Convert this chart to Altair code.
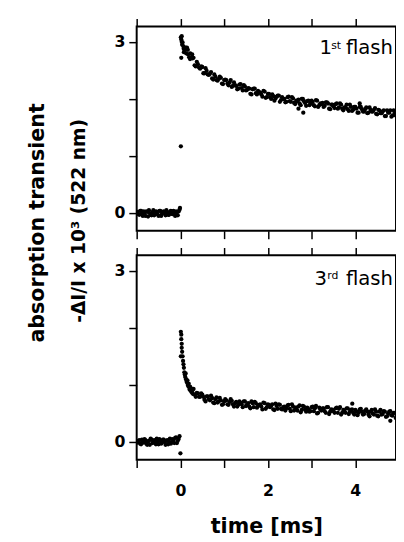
import altair as alt
import pandas as pd

# ---------------- 1st flash ----------------
t1_pre = [-0.98, -0.94, -0.90, -0.86, -0.82, -0.78, -0.74, -0.70, -0.66, -0.62,
          -0.58, -0.54, -0.50, -0.46, -0.42, -0.38, -0.34, -0.30, -0.26, -0.22,
          -0.18, -0.14, -0.10, -0.06, -0.02]
a1_pre = [0.02, -0.03, 0.04, -0.05, 0.01, 0.03, -0.06, 0.00, -0.04, 0.05,
          -0.02, 0.02, -0.05, 0.04, -0.01, 0.03, -0.04, 0.01, -0.03, 0.04,
          -0.02, 0.00, 0.03, -0.04, 0.06]
t1_pre2 = [-0.96, -0.92, -0.88, -0.84, -0.80, -0.76, -0.72, -0.68, -0.64, -0.60,
           -0.56, -0.52, -0.48, -0.44, -0.40, -0.36, -0.32, -0.28, -0.24, -0.20,
           -0.16, -0.12, -0.08, -0.04]
a1_pre2 = [-0.02, 0.04, -0.01, 0.03, -0.05, 0.02, 0.05, -0.03, 0.01, -0.04,
           0.03, -0.02, 0.04, -0.05, 0.02, 0.00, 0.05, -0.03, 0.02, -0.01,
           0.04, -0.05, 0.01, 0.03]

t1_post = [0.05, 0.10, 0.15, 0.20, 0.25, 0.30, 0.35, 0.40, 0.45, 0.50,
           0.55, 0.60, 0.65, 0.70, 0.75, 0.80, 0.85, 0.90, 0.95, 1.00,
           1.05, 1.10, 1.15, 1.20, 1.25, 1.30, 1.35, 1.40, 1.45, 1.50,
           1.55, 1.60, 1.65, 1.70, 1.75, 1.80, 1.85, 1.90, 1.95, 2.00,
           2.05, 2.10, 2.15, 2.20, 2.25, 2.30, 2.35, 2.40, 2.45, 2.50,
           2.55, 2.60, 2.65, 2.70, 2.75, 2.80, 2.85, 2.90, 2.95, 3.00,
           3.05, 3.10, 3.15, 3.20, 3.25, 3.30, 3.35, 3.40, 3.45, 3.50,
           3.55, 3.60, 3.65, 3.70, 3.75, 3.80, 3.85, 3.90, 3.95, 4.00,
           4.05, 4.10, 4.15, 4.20, 4.25, 4.30, 4.35, 4.40, 4.45, 4.50,
           4.55, 4.60, 4.65, 4.70, 4.75, 4.80, 4.85, 4.90, 4.95]
a1_post = [2.99, 2.85, 2.90, 2.73, 2.73, 2.72, 2.57, 2.61, 2.53, 2.56,
           2.45, 2.49, 2.42, 2.47, 2.34, 2.39, 2.32, 2.39, 2.27, 2.33,
           2.33, 2.24, 2.33, 2.23, 2.24, 2.17, 2.25, 2.19, 2.24, 2.15,
           2.19, 2.09, 2.17, 2.18, 2.08, 2.12, 2.08, 2.14, 2.02, 2.09,
           2.03, 2.08, 1.97, 2.04, 2.06, 1.98, 2.00, 1.94, 2.03, 1.96,
           2.03, 1.93, 1.97, 1.99, 1.89, 2.00, 1.93, 1.96, 1.89, 1.97,
           1.89, 1.98, 1.86, 1.92, 1.93, 1.88, 1.94, 1.83, 1.90, 1.87,
           1.91, 1.83, 1.92, 1.83, 1.85, 1.90, 1.79, 1.86, 1.81, 1.86,
           1.76, 1.86, 1.82, 1.78, 1.85, 1.76, 1.81, 1.78, 1.84, 1.73,
           1.80, 1.75, 1.80, 1.70, 1.76, 1.80, 1.71, 1.76, 1.70]

t1_post2 = [0.075, 0.125, 0.175, 0.225, 0.275, 0.325, 0.375, 0.425, 0.475, 0.525,
            0.575, 0.625, 0.675, 0.725, 0.775, 0.825, 0.875, 0.925, 0.975, 1.025,
            1.075, 1.125, 1.175, 1.225, 1.275, 1.325, 1.375, 1.425, 1.475, 1.525,
            1.575, 1.625, 1.675, 1.725, 1.775, 1.825, 1.875, 1.925, 1.975, 2.025,
            2.075, 2.125, 2.175, 2.225, 2.275, 2.325, 2.375, 2.425, 2.475, 2.525,
            2.575, 2.625, 2.675, 2.725, 2.775, 2.825, 2.875, 2.925, 2.975, 3.025,
            3.075, 3.125, 3.175, 3.225, 3.275, 3.325, 3.375, 3.425, 3.475, 3.525,
            3.575, 3.625, 3.675, 3.725, 3.775, 3.825, 3.875, 3.925, 3.975, 4.025,
            4.075, 4.125, 4.175, 4.225, 4.275, 4.325, 4.375, 4.425, 4.475, 4.525,
            4.575, 4.625, 4.675, 4.725, 4.775, 4.825, 4.875, 4.925]
a1_post2 = [2.88, 2.88, 2.78, 2.80, 2.71, 2.59, 2.65, 2.55, 2.57, 2.45,
            2.54, 2.43, 2.44, 2.36, 2.43, 2.33, 2.35, 2.37, 2.26, 2.34,
            2.27, 2.29, 2.21, 2.29, 2.23, 2.18, 2.26, 2.15, 2.22, 2.16,
            2.18, 2.08, 2.18, 2.10, 2.14, 2.11, 2.04, 2.13, 2.03, 2.09,
            2.00, 2.05, 2.01, 2.06, 1.95, 2.03, 2.00, 1.95, 2.04, 1.95,
            2.01, 1.91, 1.96, 1.92, 2.00, 1.96, 1.88, 1.97, 1.92, 1.95,
            1.87, 1.97, 1.89, 1.91, 1.86, 1.94, 1.92, 1.82, 1.90, 1.84,
            1.92, 1.85, 1.90, 1.80, 1.85, 1.82, 1.90, 1.79, 1.86, 1.83,
            1.76, 1.86, 1.78, 1.82, 1.75, 1.85, 1.78, 1.81, 1.74, 1.81,
            1.75, 1.78, 1.70, 1.80, 1.76, 1.69, 1.80, 1.71]

t1_extra = [0.01, 0.01, 0.02, 0.02, 0.03, 0.03, 0.04, 0.07, 0.08, 0.12,
            0.13, 0.17, 0.22, 0.27, 2.81, 2.70, 4.10, -0.01]
a1_extra = [1.17, 3.08, 3.04, 2.72, 3.00, 3.10, 2.95, 2.92, 2.82, 2.90,
            2.80, 2.86, 2.70, 2.78, 1.76, 1.83, 1.92, 0.09]

# ---------------- 3rd flash ----------------
a2_pre = [-0.01, 0.03, -0.04, 0.02, 0.05, -0.03, 0.01, -0.05, 0.04, 0.00,
          -0.02, 0.06, -0.04, 0.02, -0.01, 0.04, -0.05, 0.03, 0.01, -0.03,
          0.05, -0.02, 0.08, 0.02, 0.10]
a2_pre2 = [0.02, -0.03, 0.04, -0.01, 0.03, -0.05, 0.02, 0.06, -0.02, 0.03,
           -0.04, 0.01, 0.05, -0.03, 0.04, 0.00, 0.02, -0.04, 0.06, -0.01,
           0.03, 0.07, -0.02, 0.05]

t2_post = [0.30, 0.35, 0.40, 0.45, 0.50,
           0.55, 0.60, 0.65, 0.70, 0.75, 0.80, 0.85, 0.90, 0.95, 1.00,
           1.05, 1.10, 1.15, 1.20, 1.25, 1.30, 1.35, 1.40, 1.45, 1.50,
           1.55, 1.60, 1.65, 1.70, 1.75, 1.80, 1.85, 1.90, 1.95, 2.00,
           2.05, 2.10, 2.15, 2.20, 2.25, 2.30, 2.35, 2.40, 2.45, 2.50,
           2.55, 2.60, 2.65, 2.70, 2.75, 2.80, 2.85, 2.90, 2.95, 3.00,
           3.05, 3.10, 3.15, 3.20, 3.25, 3.30, 3.35, 3.40, 3.45, 3.50,
           3.55, 3.60, 3.65, 3.70, 3.75, 3.80, 3.85, 3.90, 3.95, 4.00,
           4.05, 4.10, 4.15, 4.20, 4.25, 4.30, 4.35, 4.40, 4.45, 4.50,
           4.55, 4.60, 4.65, 4.70, 4.75, 4.80, 4.85, 4.90, 4.95]
a2_post = [0.93, 0.79, 0.85, 0.79, 0.83,
           0.74, 0.80, 0.75, 0.81, 0.69, 0.75, 0.69, 0.77, 0.65, 0.71,
           0.73, 0.65, 0.75, 0.66, 0.68, 0.62, 0.71, 0.66, 0.71, 0.63,
           0.68, 0.59, 0.68, 0.70, 0.60, 0.65, 0.62, 0.69, 0.58, 0.66,
           0.61, 0.66, 0.56, 0.63, 0.66, 0.58, 0.61, 0.55, 0.64, 0.58,
           0.66, 0.55, 0.60, 0.62, 0.52, 0.63, 0.57, 0.60, 0.53, 0.61,
           0.54, 0.63, 0.51, 0.57, 0.59, 0.54, 0.61, 0.49, 0.57, 0.54,
           0.59, 0.51, 0.61, 0.51, 0.54, 0.59, 0.49, 0.56, 0.51, 0.56,
           0.47, 0.57, 0.53, 0.49, 0.57, 0.48, 0.53, 0.50, 0.57, 0.46,
           0.53, 0.48, 0.54, 0.44, 0.50, 0.54, 0.46, 0.51, 0.44]

t2_post2 = [0.325, 0.375, 0.425, 0.475, 0.525,
            0.575, 0.625, 0.675, 0.725, 0.775, 0.825, 0.875, 0.925, 0.975, 1.025,
            1.075, 1.125, 1.175, 1.225, 1.275, 1.325, 1.375, 1.425, 1.475, 1.525,
            1.575, 1.625, 1.675, 1.725, 1.775, 1.825, 1.875, 1.925, 1.975, 2.025,
            2.075, 2.125, 2.175, 2.225, 2.275, 2.325, 2.375, 2.425, 2.475, 2.525,
            2.575, 2.625, 2.675, 2.725, 2.775, 2.825, 2.875, 2.925, 2.975, 3.025,
            3.075, 3.125, 3.175, 3.225, 3.275, 3.325, 3.375, 3.425, 3.475, 3.525,
            3.575, 3.625, 3.675, 3.725, 3.775, 3.825, 3.875, 3.925, 3.975, 4.025,
            4.075, 4.125, 4.175, 4.225, 4.275, 4.325, 4.375, 4.425, 4.475, 4.525,
            4.575, 4.625, 4.675, 4.725, 4.775, 4.825, 4.875, 4.925]
a2_post2 = [0.83, 0.86, 0.79, 0.85, 0.79,
            0.71, 0.80, 0.73, 0.77, 0.68, 0.78, 0.71, 0.73, 0.66, 0.75,
            0.66, 0.70, 0.72, 0.62, 0.70, 0.65, 0.69, 0.61, 0.71, 0.66,
            0.62, 0.71, 0.61, 0.68, 0.63, 0.66, 0.57, 0.68, 0.61, 0.65,
            0.63, 0.57, 0.67, 0.58, 0.65, 0.57, 0.62, 0.59, 0.65, 0.54,
            0.62, 0.60, 0.55, 0.64, 0.56, 0.62, 0.53, 0.57, 0.54, 0.62,
            0.59, 0.50, 0.60, 0.55, 0.59, 0.51, 0.61, 0.53, 0.56, 0.51,
            0.60, 0.58, 0.48, 0.56, 0.51, 0.59, 0.53, 0.57, 0.48, 0.53,
            0.51, 0.58, 0.48, 0.55, 0.53, 0.45, 0.56, 0.48, 0.53, 0.45,
            0.56, 0.49, 0.53, 0.45, 0.53, 0.47, 0.51, 0.42]

t2_extra = [0.01, 0.02, 0.02, 0.03, 0.03, 0.01, 0.04, 0.05, 0.06, 0.07,
            0.08, 0.09, 0.10, 0.11, 0.12, 0.13, 0.14, 0.15, 0.16, 0.17,
            0.18, 0.19, 0.20, 0.21, 0.22, 0.23, 0.24, 0.25, 0.26, 0.27,
            0.28, 0.29, 0.00, 4.80, 3.93]
a2_extra = [1.93, 1.88, 1.80, 1.72, 1.65, 1.50, 1.58, 1.50, 1.42, 1.36,
            1.30, 1.22, 1.18, 1.14, 1.20, 1.10, 1.07, 1.04, 1.08, 1.00,
            0.98, 1.02, 0.96, 0.92, 0.97, 0.90, 0.94, 0.88, 0.93, 0.86,
            0.91, 0.84, -0.20, 0.37, 0.67]

x_ticks = [-1, 0, 1, 2, 3, 4]
y_ticks = [0, 1, 2, 3]
x_domain = [-1, 4.93]
y_domain = [-0.31, 3.27]

W, H = 264, 208
FONT = "DejaVu Sans"
DOT = 19

xscale = alt.Scale(domain=x_domain, nice=False, zero=False)
yscale = alt.Scale(domain=y_domain, nice=False, zero=False)


def label_chart(text, x, y, size, weight="normal", angle=0, align="left"):
    return alt.Chart(pd.DataFrame({"label": [text]})).mark_text(
        font=FONT, fontSize=size, fontWeight=weight, color="black",
        angle=angle, align=align, baseline="alphabetic" if angle == 0 else "middle",
    ).encode(x=alt.value(x), y=alt.value(y), text="label:N")


def panel(t_main, a_main, t_extra, a_extra, bottom_labels, annotations):
    main = pd.DataFrame({"t": t_main, "a": a_main})
    extra = pd.DataFrame({"t": t_extra, "a": a_extra})
    if bottom_labels:
        xb_axis = alt.Axis(orient="bottom", values=x_ticks,
                           labelExpr="datum.value % 2 == 0 ? datum.label : ''",
                           labelPadding=15, title="time [ms]", titlePadding=18)
    else:
        xb_axis = alt.Axis(orient="bottom", values=x_ticks, labels=False, title=None)
    xt_axis = alt.Axis(orient="top", values=x_ticks, labels=False, title=None)

    def y_axis():
        return alt.Axis(values=y_ticks, title=None, labelPadding=4,
                        labelExpr="datum.value == 1 || datum.value == 2 ? '' : datum.label")

    pts_main = alt.Chart(main).mark_circle(size=DOT, color="black", opacity=1, clip=True).encode(
        x=alt.X("t:Q", scale=xscale, axis=xb_axis),
        y=alt.Y("a:Q", scale=yscale, axis=y_axis()),
    )
    pts_extra = alt.Chart(extra).mark_circle(size=DOT, color="black", opacity=1, clip=True).encode(
        x=alt.X("t:Q", scale=xscale, axis=xt_axis),
        y=alt.Y("a:Q", scale=yscale, axis=y_axis()),
    )
    layers = [pts_main, pts_extra] + annotations
    return alt.layer(*layers).properties(width=W, height=H).resolve_axis(x="independent")


top_ann = [
    label_chart("1", 186, 28, 20),
    label_chart("st", 198, 23, 11),
    label_chart("flash", 213, 28, 20),
    label_chart("absorption transient", -100, 200, 21, "bold", 270, "center"),
    label_chart("-\u0394I/I x 10\u00b3 (522 nm)", -59, 198, 19, "bold", 270, "center"),
]
bot_ann = [
    label_chart("3", 181, 30, 20),
    label_chart("rd", 194, 24, 11),
    label_chart("flash", 213, 30, 20),
]

top = panel(t1_pre + t1_pre2 + t1_post + t1_post2, a1_pre + a1_pre2 + a1_post + a1_post2,
            t1_extra, a1_extra, False, top_ann)
bottom = panel(t1_pre + t1_pre2 + t2_post + t2_post2, a2_pre + a2_pre2 + a2_post + a2_post2,
               t2_extra, a2_extra, True, bot_ann)

chart = alt.vconcat(
    top, bottom, spacing=25, bounds="flush", background="white",
    padding={"left": 19, "top": 4, "right": -1, "bottom": -2},
).configure_view(stroke="black", strokeWidth=2).configure_axis(
    labelFont=FONT, labelFontWeight="bold", labelFontSize=16, labelColor="black",
    tickColor="black", tickWidth=1.5, tickSize=8, domain=False, grid=False,
    titleFont=FONT, titleFontWeight="bold", titleFontSize=21, titleColor="black",
)

chart.save("out.html", embed_options={"renderer": "svg", "actions": False})
